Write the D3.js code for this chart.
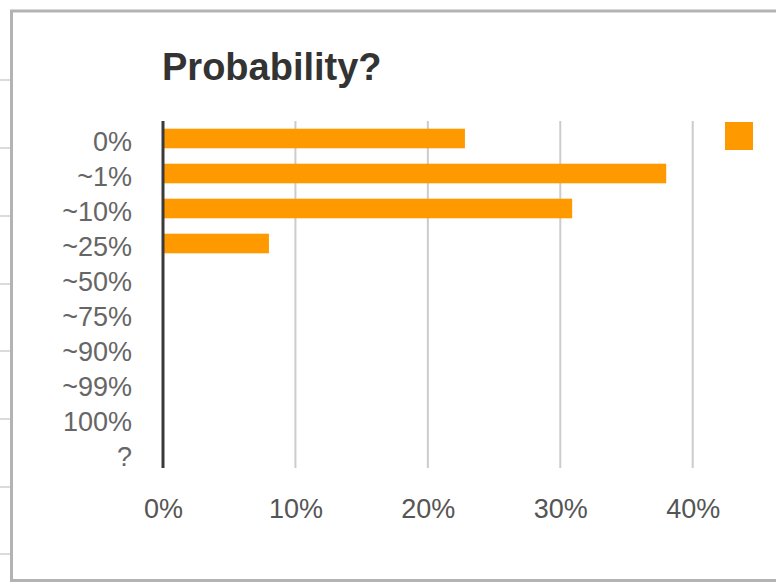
<!DOCTYPE html>
<html>
<head>
<meta charset="utf-8">
<script src="https://cdn.jsdelivr.net/npm/d3@7"></script>
<style>
  html, body { margin: 0; padding: 0; background: #fff; }
  svg { display: block; font-family: "Liberation Sans", Arial, sans-serif; }
</style>
</head>
<body>
<svg id="chart" width="776" height="583"></svg>
<script>
// Answer categories, top to bottom
const categories = ["0%", "~1%", "~10%", "~25%", "~50%", "~75%", "~90%", "~99%", "100%", "?"];
// Share of responses per category, in percent
const shares = [22.8, 38.0, 30.9, 8.0, 0, 0, 0, 0, 0, 0];
// Horizontal axis ticks, in percent
const xTicks = [0, 10, 20, 30, 40];
const title = "Probability?";

const svg = d3.select("#chart");
const W = 776, H = 583;
const barColor = "#ff9900";

// Sheet row lines to the left of the chart frame
const rowLines = [80, 148, 216, 284, 351, 419, 487, 554];
svg.selectAll("line.row").data(rowLines).join("line")
  .attr("class", "row")
  .attr("x1", 0).attr("x2", 10)
  .attr("y1", d => d).attr("y2", d => d)
  .attr("stroke", "#cfcfcf").attr("stroke-width", 1.5);

// Chart frame
svg.append("rect")
  .attr("x", 11.5).attr("y", 11)
  .attr("width", W + 10).attr("height", H - 11 - 2.5)
  .attr("fill", "#fff")
  .attr("stroke", "#b3b3b3").attr("stroke-width", 3);

const plot = { left: 163, right: 692.7, top: 121, bottom: 471 };

const x = d3.scaleLinear().domain([0, 40]).range([plot.left, plot.right]);
const y = d3.scaleBand().domain(categories)
  .range([plot.top, plot.bottom])
  .paddingInner(0.44).paddingOuter(0.22);

// Title
svg.append("text")
  .attr("x", 162).attr("y", 79.5)
  .attr("font-size", 38)
  .attr("font-weight", "bold")
  .attr("fill", "#333")
  .text(title);

// Vertical gridlines
svg.append("g")
  .selectAll("line")
  .data(xTicks.filter(t => t > 0))
  .join("line")
  .attr("x1", d => x(d)).attr("x2", d => x(d))
  .attr("y1", plot.top).attr("y2", 468)
  .attr("stroke", "#cccccc").attr("stroke-width", 2);

// Bars
svg.append("g")
  .selectAll("rect")
  .data(categories.map((c, i) => ({ c, v: shares[i] })).filter(d => d.v > 0))
  .join("rect")
  .attr("x", x(0))
  .attr("y", d => y(d.c))
  .attr("width", d => x(d.v) - x(0))
  .attr("height", y.bandwidth())
  .attr("fill", barColor);

// Baseline at zero
svg.append("line")
  .attr("x1", x(0)).attr("x2", x(0))
  .attr("y1", plot.top).attr("y2", 468)
  .attr("stroke", "#3a3a3a").attr("stroke-width", 3);

// Category axis
const yAxis = d3.axisLeft(y).tickSize(0).tickPadding(0);
const gy = svg.append("g")
  .attr("transform", `translate(132,0)`)
  .call(yAxis);
gy.select(".domain").remove();
gy.selectAll("text")
  .attr("font-size", 27)
  .attr("dy", "0.45em")
  .attr("font-family", "'Liberation Sans', Arial, sans-serif")
  .attr("fill", "#666");

// Value axis
const xAxis = d3.axisBottom(x).tickValues(xTicks).tickFormat(d => d + "%").tickSize(0).tickPadding(0);
const gx = svg.append("g")
  .attr("transform", `translate(0,499)`)
  .call(xAxis);
gx.select(".domain").remove();
gx.selectAll("text")
  .attr("font-size", 27)
  .attr("font-family", "'Liberation Sans', Arial, sans-serif")
  .attr("fill", "#555");

// Legend swatch
svg.append("rect")
  .attr("x", 725).attr("y", 122)
  .attr("width", 28).attr("height", 28)
  .attr("fill", barColor);
</script>
</body>
</html>
